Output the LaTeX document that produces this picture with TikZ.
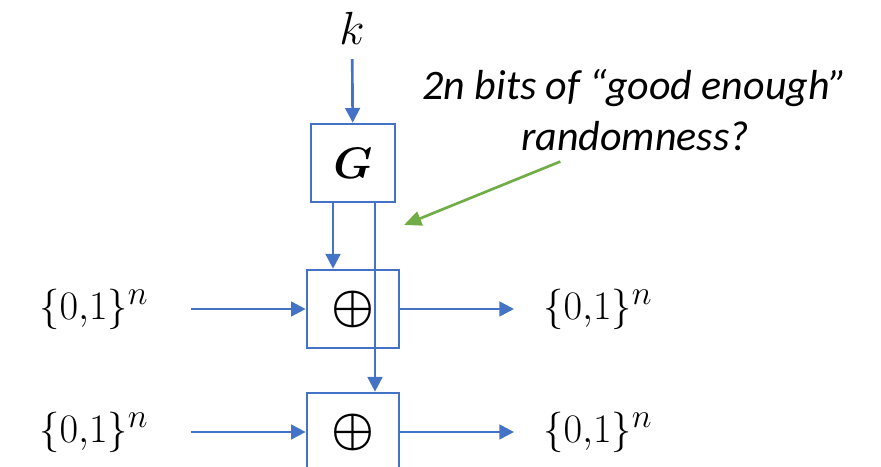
\documentclass[tikz,border=0pt]{standalone}
\usepackage{amsmath,amssymb,bm}
\usepackage{fontspec}
\newfontfamily\notefont{Carlito}
\usetikzlibrary{arrows.meta,positioning,calc}
\definecolor{boxblue}{HTML}{4472C4}
\definecolor{notegreen}{HTML}{70AD47}
\newcommand{\bitset}{\scalebox{1.22}{$\{0{,}1\}^n$}}
\newcommand{\xorsym}{\scalebox{1.45}{$\bm{\oplus}$}}
\tikzset{
  blk/.style={draw=boxblue,rectangle,line width=2pt,minimum width=69pt,minimum height=58.5pt,inner sep=0pt,align=center,font=\Huge},
  genblk/.style={blk,minimum width=63pt},
  lbl/.style={inner sep=0pt,font=\Huge},
  arr/.style={-{Triangle[length=11pt,width=11pt]},line width=2pt,boxblue},
  garr/.style={-{Triangle[length=13pt,width=11pt]},line width=2pt,notegreen},
  notelbl/.style={font=\fontsize{31.5}{38}\selectfont\notefont\itshape,align=center,inner sep=0pt}
}
\begin{document}
\begin{tikzpicture}[x=0.75pt,y=0.75pt]
  \useasboundingbox (0,0) rectangle (881,467);
  % boxes
  \node[genblk] (gen) at (353,304) {\scalebox{1.33}{$\bm{G}$}};
  \node[blk] (xa) at (353,158) {\xorsym};
  \node[blk] (xb) at (353,35) {\xorsym};
  \node[lbl] (key) at (352,439) {\scalebox{1.4}{$k$}};
  % inputs and outputs
  \node[lbl, left=117.75pt of xa] (ina) {\bitset};
  \node[lbl, left=117.75pt of xb] (inb) {\bitset};
  \node[lbl, right=107pt of xa] (outa) {\bitset};
  \node[lbl, right=107pt of xb] (outb) {\bitset};
  % remark
  \node[notelbl] (note) at (635,357) {2n bits of “good enough”\\randomness?};
  \coordinate (tip) at (404,242);

  \draw[arr, shorten <=11pt] (key) -- (gen);
  \draw[arr] ([xshift=-15pt]gen.south) -- ([xshift=-15pt]xa.north);
  \draw[arr] ([xshift=16.5pt]gen.south) -- ([xshift=16.5pt]xb.north);
  \draw[arr, shorten <=31.5pt] (ina) -- (xa);
  \draw[arr, shorten <=31.5pt] (inb) -- (xb);
  \draw[arr, shorten >=21.75pt] (xa) -- (outa);
  \draw[arr, shorten >=21.75pt] (xb) -- (outb);
  \draw[garr] ([xshift=-56pt,yshift=-8pt]note.south) -- (tip);
\end{tikzpicture}
\end{document}
